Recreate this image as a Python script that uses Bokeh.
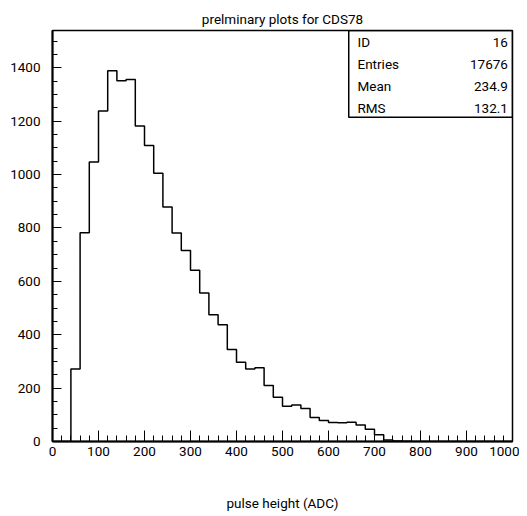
from bokeh.plotting import figure
from bokeh.models import Range1d, SingleIntervalTicker, BoxAnnotation, Label
from bokeh.embed import file_html
from bokeh.resources import INLINE

# ---- data ----
bin_width = 20
bin_start = 0
counts = [0, 0, 272, 782, 1047, 1238, 1389, 1352, 1356, 1182,
          1109, 1005, 879, 781, 716, 642, 556, 475, 437, 345,
          297, 272, 276, 210, 166, 132, 137, 124, 90, 79,
          71, 70, 72, 62, 46, 25, 6, 2, 1, 0,
          0, 0, 0, 0, 0, 0, 0, 0, 0, 0]
stat_names = ["ID", "Entries", "Mean", "RMS"]
stat_values = ["16", "17676", "234.9", "132.1"]
title_text = "prelminary plots for CDS78"
x_label = "pulse height (ADC)"

FONT = "Roboto"
FS = "13.5px"

edges = [bin_start + i * bin_width for i in range(len(counts) + 1)]
ys = counts + [counts[-1]]

p = figure(width=519, height=515, output_backend="svg", toolbar_location=None,
           x_range=Range1d(0, 1000), y_range=Range1d(0, 1540),
           min_border_left=52, min_border_right=7, min_border_top=30, min_border_bottom=74,
           title=title_text)
p.background_fill_color = "white"
p.border_fill_color = "white"
p.outline_line_color = "black"
p.outline_line_width = 1.5
p.grid.visible = False

p.title.align = "center"
p.title.text_font = FONT
p.title.text_font_size = FS
p.title.text_font_style = "normal"
p.title.text_color = "black"
p.title.standoff = 7

p.step(x=edges, y=ys, mode="after", line_color="black", line_width=1.5)

# axes
xa = p.xaxis[0]
xa.ticker = SingleIntervalTicker(interval=100, num_minor_ticks=5)
ya = p.yaxis[0]
ya.ticker = SingleIntervalTicker(interval=200, num_minor_ticks=4)
for ax in (xa, ya):
    ax.axis_line_color = "black"
    ax.axis_line_width = 2
    ax.major_tick_line_color = "black"
    ax.minor_tick_line_color = "black"
    ax.major_tick_out = 0
    ax.minor_tick_out = 0
    ax.major_label_text_font = FONT
    ax.major_label_text_font_size = FS
    ax.major_label_text_color = "black"
xa.major_tick_in = 11
xa.minor_tick_in = 6
ya.major_tick_in = 9
ya.minor_tick_in = 5
xa.major_label_standoff = 5
ya.major_label_standoff = 12
xa.axis_label = x_label
xa.axis_label_text_font = FONT
xa.axis_label_text_font_size = FS
xa.axis_label_text_font_style = "normal"
xa.axis_label_text_color = "black"
xa.axis_label_standoff = 36

# stats box
box_left, box_right, box_top, box_bottom = 644, 1000, 1540, 1215
p.add_layout(BoxAnnotation(left=box_left, right=box_right, top=box_top, bottom=box_bottom,
                           fill_alpha=0, line_color="black", line_alpha=1.0, line_width=1.5))
row_y = [1496, 1414, 1331, 1249]
for name, val, yy in zip(stat_names, stat_values, row_y):
    p.add_layout(Label(x=663, y=yy, text=name, text_font=FONT, text_font_size=FS,
                       text_baseline="middle", text_align="left", text_color="black"))
    p.add_layout(Label(x=990, y=yy, text=val, text_font=FONT, text_font_size=FS,
                       text_baseline="middle", text_align="right", text_color="black"))

open("out.html", "w").write(file_html(p, INLINE))
